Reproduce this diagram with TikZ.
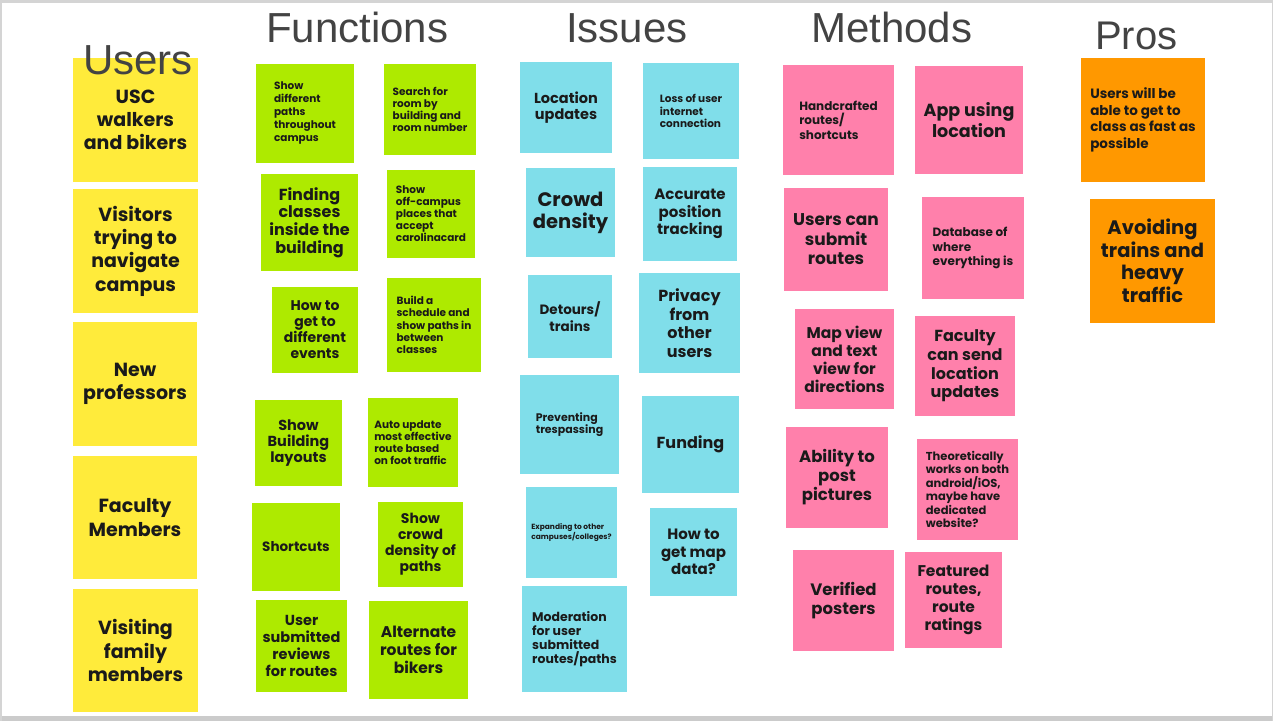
\documentclass[tikz,border=0pt]{standalone}
\usepackage{fontspec}
\newfontfamily\notefont{Poppins}
\newfontfamily\titlefont{Liberation Sans}
\definecolor{yel}{HTML}{FFEB3B}
\definecolor{grn}{HTML}{AEEA00}
\definecolor{cyn}{HTML}{80DEEA}
\definecolor{pnk}{HTML}{FF80AB}
\definecolor{org}{HTML}{FF9800}
\definecolor{ttl}{HTML}{434343}
\definecolor{ntx}{HTML}{1A1A1A}
\definecolor{frame}{HTML}{D4D4D4}
\newcommand\nfs[2]{\notefont\bfseries\fontsize{#1}{#2}\selectfont}
\tikzset{
  note/.style={anchor=north west, inner sep=2pt, outer sep=0pt, text=ntx},
  cnote/.style={note, align=center},
  lnote/.style={note, align=left},
  title/.style={anchor=base west, inner sep=0pt, text=ttl, font=\titlefont\fontsize{42}{42}\selectfont},
}
\begin{document}
\begin{tikzpicture}[x=1pt,y=-1pt]
\useasboundingbox (0,0) rectangle (1273,721);
\fill[white] (0,0) rectangle (1273,721);
\fill[frame] (0,0) rectangle (1273,3);
\fill[frame!120] (0,716) rectangle (1273,721);
\fill[frame] (0,0) rectangle (1.5,721);
\fill[frame] (1271.5,0) rectangle (1273,721);

% Users
\node[cnote, fill=yel, minimum width=125, minimum height=124, font=\nfs{19}{23.3}] (u1) at (73,58) {USC\\walkers\\and bikers};
\node[cnote, fill=yel, minimum width=125, minimum height=124, font=\nfs{19}{23.3}] (u2) at (73,189) {Visitors\\trying to\\navigate\\campus};
\node[cnote, fill=yel, minimum width=124, minimum height=124, font=\nfs{19}{23.3}] (u3) at (73,322) {New\\professors};
\node[cnote, fill=yel, minimum width=124, minimum height=123, font=\nfs{19}{23.3}] (u4) at (73,456) {Faculty\\Members};
\node[cnote, fill=yel, minimum width=125, minimum height=123, font=\nfs{19}{23.3}] (u5) at (73,589) {Visiting\\family\\members};

% Functions
\node[lnote, fill=grn, minimum width=98, minimum height=99, font=\nfs{10.5}{13}] (g1) at (256,64) {Show\\different\\paths\\throughout\\campus};
\node[lnote, fill=grn, minimum width=92, minimum height=91, font=\nfs{10.5}{12}] (g2) at (384,64) {Search for\\room by\\building and\\room number};
\node[cnote, fill=grn, minimum width=97, minimum height=97, font=\nfs{16}{17.7}] (g3) at (261,174) {Finding\\classes\\inside the\\building};
\node[lnote, fill=grn, minimum width=88, minimum height=88, font=\nfs{10.5}{12}] (g4) at (387,170) {Show\\off-campus\\places that\\accept\\carolinacard};
\node[cnote, fill=grn, minimum width=86, minimum height=86, font=\nfs{14}{16}] (g5) at (272,287) {How to\\get to\\different\\events};
\node[lnote, fill=grn, minimum width=94, minimum height=94, font=\nfs{10.5}{12.3}] (g6) at (387,278) {Build a\\schedule and\\show paths in\\between\\classes};
\node[cnote, fill=grn, minimum width=87, minimum height=86, font=\nfs{14.5}{16.3}] (g7) at (255,400) {Show\\Building\\layouts};
\node[lnote, fill=grn, minimum width=90, minimum height=89, font=\nfs{10.5}{12.2}] (g8) at (368,398) {Auto update\\most effective\\route based\\on foot traffic};
\node[cnote, fill=grn, minimum width=88, minimum height=88, font=\nfs{13.5}{16}] (g9) at (252,503) {Shortcuts};
\node[cnote, fill=grn, minimum width=85, minimum height=85, font=\nfs{14}{16}] (g10) at (378,502) {Show\\crowd\\density of\\paths};
\node[cnote, fill=grn, minimum width=91, minimum height=92, font=\nfs{14.5}{17}] (g11) at (256,600) {User\\submitted\\reviews\\for routes};
\node[cnote, fill=grn, minimum width=99, minimum height=98, font=\nfs{15.5}{18}] (g12) at (369,601) {Alternate\\routes for\\bikers};

% Issues
\node[cnote, fill=cyn, minimum width=92, minimum height=91, font=\nfs{14.5}{16.7}] (i1) at (520,62) {Location\\updates};
\node[lnote, fill=cyn, minimum width=96, minimum height=96, font=\nfs{10.5}{12.5}] (i2) at (643,63) {Loss of user\\internet\\connection};
\node[cnote, fill=cyn, minimum width=89, minimum height=89, font=\nfs{19.5}{22}] (i3) at (526,168) {Crowd\\density};
\node[cnote, fill=cyn, minimum width=94, minimum height=94, font=\nfs{15}{17.5}] (i4) at (643,167) {Accurate\\position\\tracking};
\node[cnote, fill=cyn, minimum width=84, minimum height=83, font=\nfs{13.5}{16.7}] (i5) at (528,275) {Detours/\\trains};
\node[cnote, fill=cyn, minimum width=101, minimum height=100, font=\nfs{16}{18.7}] (i6) at (639,273) {Privacy\\from\\other\\users};
\node[lnote, fill=cyn, minimum width=99, minimum height=99, font=\nfs{11}{12.5}] (i7) at (520,375) {Preventing\\trespassing};
\node[cnote, fill=cyn, minimum width=97, minimum height=97, font=\nfs{16}{18}] (i8) at (642,396) {Funding};
\node[lnote, fill=cyn, minimum width=91, minimum height=91, font=\nfs{7.5}{9}] (i9) at (526,487) {Expanding to other\\campuses/colleges?};
\node[cnote, fill=cyn, minimum width=87, minimum height=88, font=\nfs{15}{17.3}] (i10) at (650,508) {How to\\get map\\data?};
\node[lnote, fill=cyn, minimum width=105, minimum height=106, font=\nfs{12.5}{14.2}] (i11) at (522,586) {Moderation\\for user\\submitted\\routes/paths};

% Methods
\node[lnote, fill=pnk, minimum width=111, minimum height=110, font=\nfs{12}{14.6}] (m1) at (783,65) {Handcrafted\\routes/\\shortcuts};
\node[cnote, fill=pnk, minimum width=108, minimum height=108, font=\nfs{17.5}{20.3}] (m2) at (915,66) {App using\\location};
\node[cnote, fill=pnk, minimum width=104, minimum height=103, font=\nfs{17}{19.5}] (m3) at (784,188) {Users can\\submit\\routes};
\node[lnote, fill=pnk, minimum width=102, minimum height=102, font=\nfs{12}{14.4}] (m4) at (922,197) {Database of\\where\\everything is};
\node[cnote, fill=pnk, minimum width=99, minimum height=100, font=\nfs{15.5}{18}] (m5) at (795,309) {Map view\\and text\\view for\\directions};
\node[cnote, fill=pnk, minimum width=100, minimum height=100, font=\nfs{16}{18.7}] (m6) at (915,316) {Faculty\\can send\\location\\updates};
\node[cnote, fill=pnk, minimum width=102, minimum height=101, font=\nfs{16.5}{19}] (m7) at (786,427) {Ability to\\post\\pictures};
\node[lnote, fill=pnk, minimum width=101, minimum height=101, font=\nfs{11.5}{13.5}] (m8) at (917,439) {Theoretically\\works on both\\android/iOS,\\maybe have\\dedicated\\website?};
\node[cnote, fill=pnk, minimum width=101, minimum height=101, font=\nfs{16.5}{19.3}] (m9) at (793,550) {Verified\\posters};
\node[cnote, fill=pnk, minimum width=97, minimum height=96, font=\nfs{15.5}{18}] (m10) at (905,552) {Featured\\routes,\\route\\ratings};

% Pros
\node[lnote, fill=org, minimum width=124, minimum height=124, font=\nfs{13.5}{16.7}] (p1) at (1081,58) {Users will be\\able to get to\\class as fast as\\possible};
\node[cnote, fill=org, minimum width=125, minimum height=124, font=\nfs{19.5}{22.5}] (p2) at (1090,199) {Avoiding\\trains and\\heavy\\traffic};

% Titles
\node[title] (tu) at (83,74) {Users};
\node[title] (tf) at (266,42) {Functions};
\node[title] (ti) at (566,42) {Issues};
\node[title] (tm) at (811,42) {Methods};
\node[title, font=\titlefont\fontsize{40}{40}\selectfont] (tp) at (1095,49) {Pros};
\end{tikzpicture}
\end{document}
